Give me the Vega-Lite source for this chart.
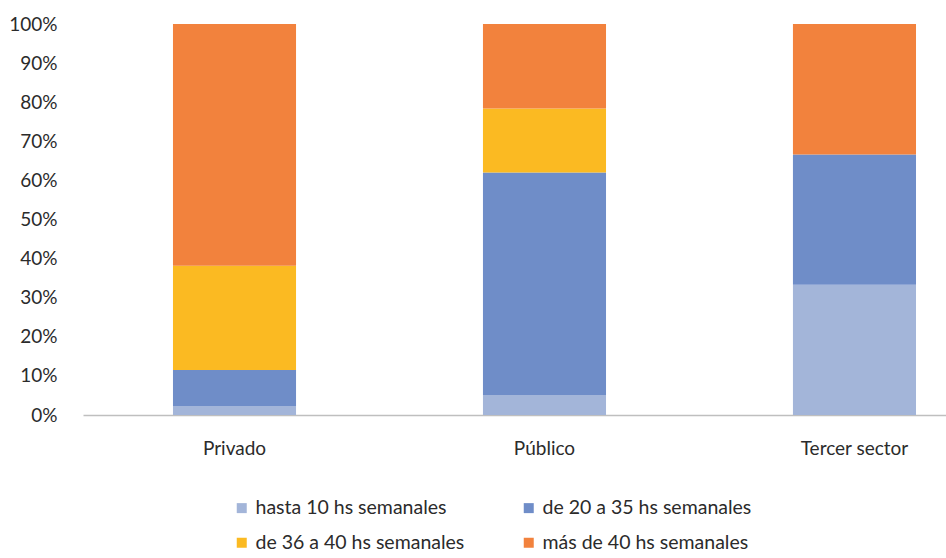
{
  "$schema": "https://vega.github.io/schema/vega-lite/v6.json",
  "width": 863,
  "height": 391,
  "autosize": {"type": "none"},
  "padding": {"left": 83, "top": 24, "right": 0, "bottom": 143},
  "background": "white",
  "config": {
    "view": {"stroke": null},
    "font": "Lato",
    "axis": {"labelFont": "Lato", "labelColor": "#2b2b2b", "labelFontSize": 19},
    "legend": {"labelFont": "Lato", "labelColor": "#2b2b2b", "labelFontSize": 19.5}
  },
  "data": {
    "values": [
      {"sector": "Privado", "jornada": "hasta 10 hs semanales", "orden": 1, "pct": 2.3},
      {"sector": "Privado", "jornada": "de 20 a 35 hs semanales", "orden": 2, "pct": 9.2},
      {"sector": "Privado", "jornada": "de 36 a 40 hs semanales", "orden": 3, "pct": 26.7},
      {"sector": "Privado", "jornada": "más de 40 hs semanales", "orden": 4, "pct": 61.8},
      {"sector": "Público", "jornada": "hasta 10 hs semanales", "orden": 1, "pct": 5.1},
      {"sector": "Público", "jornada": "de 20 a 35 hs semanales", "orden": 2, "pct": 56.9},
      {"sector": "Público", "jornada": "de 36 a 40 hs semanales", "orden": 3, "pct": 16.4},
      {"sector": "Público", "jornada": "más de 40 hs semanales", "orden": 4, "pct": 21.6},
      {"sector": "Tercer sector", "jornada": "hasta 10 hs semanales", "orden": 1, "pct": 33.3},
      {"sector": "Tercer sector", "jornada": "de 20 a 35 hs semanales", "orden": 2, "pct": 33.3},
      {"sector": "Tercer sector", "jornada": "de 36 a 40 hs semanales", "orden": 3, "pct": 0},
      {"sector": "Tercer sector", "jornada": "más de 40 hs semanales", "orden": 4, "pct": 33.4}
    ]
  },
  "mark": {"type": "bar"},
  "encoding": {
    "x": {
      "field": "sector",
      "type": "nominal",
      "sort": ["Privado", "Público", "Tercer sector"],
      "scale": {"paddingInner": 0.603, "paddingOuter": 0.1935, "align": 0.75},
      "axis": {
        "title": null,
        "labelAngle": 0,
        "ticks": false,
        "labelPadding": 24,
        "domainColor": "#bfbfbf",
        "domainWidth": 1.5
      }
    },
    "y": {
      "field": "pct",
      "type": "quantitative",
      "stack": "normalize",
      "scale": {"domain": [0, 1]},
      "axis": {
        "title": null,
        "format": ".0%",
        "values": [0, 0.1, 0.2, 0.3, 0.4, 0.5, 0.6, 0.7, 0.8, 0.9, 1],
        "domain": false,
        "ticks": false,
        "grid": false,
        "labelPadding": 26
      }
    },
    "color": {
      "field": "jornada",
      "type": "nominal",
      "scale": {
        "domain": ["hasta 10 hs semanales", "de 20 a 35 hs semanales", "de 36 a 40 hs semanales", "más de 40 hs semanales"],
        "range": ["#a3b5d9", "#6f8dc8", "#fbba22", "#f2823d"]
      },
      "legend": {
        "title": null,
        "orient": "none",
        "legendX": 149,
        "legendY": 474,
        "direction": "horizontal",
        "columns": 2,
        "columnPadding": 54,
        "rowPadding": 14,
        "symbolType": "square",
        "symbolSize": 100,
        "symbolOpacity": 1,
        "symbolStrokeWidth": 0,
        "labelOffset": 4,
        "labelLimit": 0
      }
    },
    "order": {"field": "orden", "type": "quantitative"}
  }
}
